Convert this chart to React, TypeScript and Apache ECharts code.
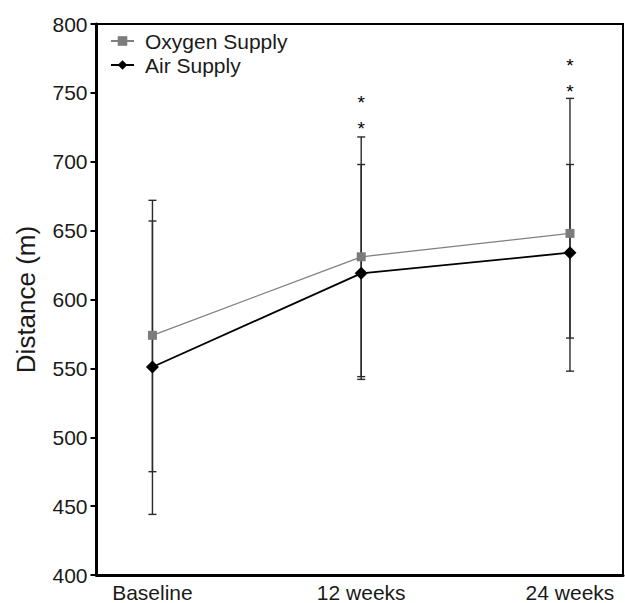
import React, { useEffect, useRef } from "react";
import * as echarts from "echarts";

const categories = ["Baseline", "12 weeks", "24 weeks"];
const oxygenMean = [574, 631, 648];
const oxygenLow = [475, 544, 548];
const oxygenHigh = [672, 718, 746];
const airMean = [551, 619, 634];
const airLow = [444, 542, 572];
const airHigh = [657, 698, 698];
// significance asterisks: [category index, y position]
const asteriskMarks = [
  [1, 726],
  [1, 745],
  [2, 753],
  [2, 772],
];
const yTicks = { min: 400, max: 800, interval: 50 };

const FONT = "Liberation Sans, Arial, Helvetica, sans-serif";

export default function App() {
  const ref = useRef<HTMLDivElement>(null);
  useEffect(() => {
    if (!ref.current) return;
    const chart = echarts.init(ref.current, undefined, { renderer: "svg" });

    const errData = (low: number[], high: number[]) =>
      categories.map((_, i) => [i, low[i], high[i]]);

    const errRender = (params: any, api: any) => {
      const x = api.value(0);
      const lo = api.coord([x, api.value(1)]);
      const hi = api.coord([x, api.value(2)]);
      const half = 4;
      const style = { stroke: "#2a2a2a", lineWidth: 1.4 };
      return {
        type: "group",
        children: [
          { type: "line", shape: { x1: lo[0], y1: lo[1], x2: hi[0], y2: hi[1] }, style },
          { type: "line", shape: { x1: lo[0] - half, y1: lo[1], x2: lo[0] + half, y2: lo[1] }, style },
          { type: "line", shape: { x1: hi[0] - half, y1: hi[1], x2: hi[0] + half, y2: hi[1] }, style },
        ],
      };
    };

    chart.setOption({
      animation: false,
      textStyle: { fontFamily: FONT },
      grid: {
        left: 96.5,
        right: 2,
        top: 24,
        bottom: 26,
        show: true,
        borderColor: "#000",
        borderWidth: 2,
        containLabel: false,
      },
      legend: {
        orient: "vertical",
        left: 105,
        top: 25,
        itemWidth: 23,
        itemHeight: 12,
        itemGap: 2,
        textStyle: {
          fontSize: 21,
          color: "#1a1a1a",
          fontFamily: FONT,
          lineHeight: 22,
          padding: [0, 0, 0, 6],
        },
        data: ["Oxygen Supply", "Air Supply"],
      },
      xAxis: {
        type: "value",
        min: -0.268,
        max: 2.254,
        splitLine: { show: false },
        axisTick: { show: false },
        axisLine: { onZero: false, lineStyle: { color: "#000", width: 3 } },
        axisLabel: {
          customValues: [0, 1, 2],
          formatter: (v: number) => categories[Math.round(v)] ?? "",
          fontSize: 21,
          color: "#1a1a1a",
          margin: 7,
          fontFamily: FONT,
        },
      },
      yAxis: {
        type: "value",
        min: yTicks.min,
        max: yTicks.max,
        interval: yTicks.interval,
        name: "Distance (m)",
        nameLocation: "middle",
        nameGap: 58,
        nameTextStyle: { fontSize: 26, color: "#1a1a1a", fontFamily: FONT },
        splitLine: { show: false },
        axisLine: { show: true, onZero: false, lineStyle: { color: "#000", width: 3 } },
        axisTick: { show: true, length: 6, lineStyle: { color: "#000", width: 2 } },
        axisLabel: { fontSize: 21, color: "#1a1a1a", margin: 9, fontFamily: FONT },
      },
      series: [
        {
          name: "oxErr",
          type: "custom",
          renderItem: errRender,
          data: errData(oxygenLow, oxygenHigh),
          z: 1,
          silent: true,
        },
        {
          name: "airErr",
          type: "custom",
          renderItem: errRender,
          data: errData(airLow, airHigh),
          z: 1,
          silent: true,
        },
        {
          name: "Oxygen Supply",
          type: "line",
          data: categories.map((_, i) => [i, oxygenMean[i]]),
          symbol: "rect",
          symbolSize: 9,
          itemStyle: { color: "#7c7c7c" },
          lineStyle: { color: "#808080", width: 1.3 },
          z: 3,
        },
        {
          name: "Air Supply",
          type: "line",
          data: categories.map((_, i) => [i, airMean[i]]),
          symbol: "diamond",
          symbolSize: 13,
          itemStyle: { color: "#000" },
          lineStyle: { color: "#000", width: 1.8 },
          z: 4,
        },
        {
          name: "asterisks",
          type: "custom",
          data: asteriskMarks,
          z: 5,
          silent: true,
          renderItem: (params: any, api: any) => {
            const p = api.coord([api.value(0), api.value(1)]);
            return {
              type: "text",
              x: p[0],
              y: p[1] + 3,
              style: {
                text: "*",
                fontSize: 19,
                fontFamily: FONT,
                fill: "#000",
                align: "center",
                verticalAlign: "middle",
              },
            };
          },
        },
      ],
    });
    return () => chart.dispose();
  }, []);
  return (
    <div
      ref={ref}
      style={{ position: "fixed", left: 0, top: 0, width: 625, height: 603, background: "#fff" }}
    />
  );
}
